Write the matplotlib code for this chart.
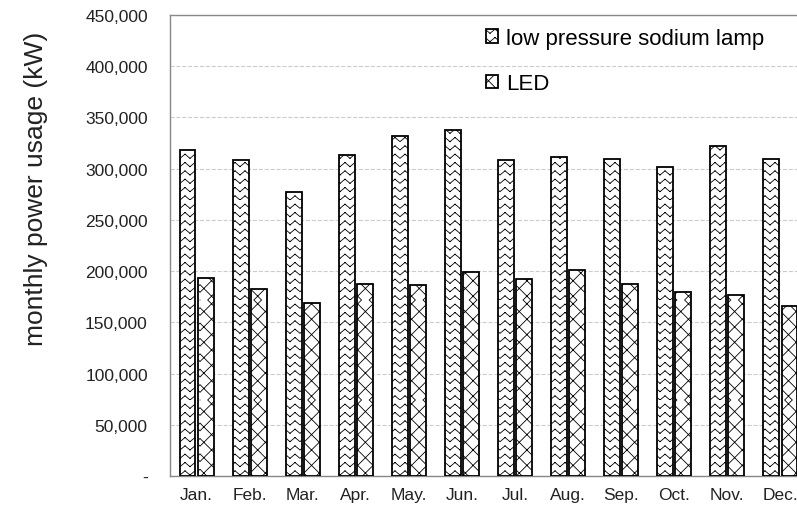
import warnings
import numpy as np
import matplotlib
matplotlib.use("Agg")
import matplotlib.pyplot as plt
import matplotlib.hatch as mhatch
from matplotlib.path import Path
from matplotlib.ticker import FuncFormatter

warnings.filterwarnings("ignore")

months = ['Jan.', 'Feb.', 'Mar.', 'Apr.', 'May.', 'Jun.',
          'Jul.', 'Aug.', 'Sep.', 'Oct.', 'Nov.', 'Dec.']
sodium = [318000, 308000, 277500, 313500, 331500, 337500,
          308000, 311000, 309000, 301500, 322500, 309000]
led = [193000, 183000, 169000, 187500, 186000, 199000,
       192000, 201000, 187500, 180000, 177000, 166000]
labels = ['low pressure sodium lamp', 'LED']


# wavy fill like excel's "wave" pattern, hatch letter 'w'
# (drawn as separate 2-point segments so agg does not fill them)
class WaveHatch(mhatch.HatchPatternBase):
    def __init__(self, hatch, density):
        n = hatch.count('w')
        self.rows = 12 * n
        self.periods = 10 * n
        self.num_lines = self.rows
        self.num_vertices = self.rows * 2 * (2 * self.periods)

    def set_vertices_and_codes(self, vertices, codes):
        if not self.num_lines:
            return
        xs = np.linspace(0, 1, 2 * self.periods + 1)
        amp = 0.5 / self.rows
        k = 0
        for i in range(self.rows):
            ys = i / self.rows + amp * (np.arange(len(xs)) % 2)
            for j in range(len(xs) - 1):
                vertices[k] = (xs[j], ys[j])
                vertices[k + 1] = (xs[j + 1], ys[j + 1])
                codes[k] = Path.MOVETO
                codes[k + 1] = Path.LINETO
                k += 2


# diagonal cross, hatch letter 'c'
class CrossHatch(mhatch.HatchPatternBase):
    def __init__(self, hatch, density):
        self.num_lines = 13 * hatch.count('c')
        self.num_vertices = 4 * (self.num_lines + 1) if self.num_lines else 0

    def set_vertices_and_codes(self, vertices, codes):
        if not self.num_lines:
            return
        steps = np.linspace(-0.5, 0.5, self.num_lines + 1)
        k = 0
        for s in steps:
            vertices[k] = (0 + s, 0 - s)
            vertices[k + 1] = (1 + s, 1 - s)
            vertices[k + 2] = (0 + s, 1 + s)
            vertices[k + 3] = (1 + s, 0 + s)
            codes[k:k + 4] = [Path.MOVETO, Path.LINETO, Path.MOVETO, Path.LINETO]
            k += 4


mhatch._hatch_types.append(WaveHatch)
mhatch._hatch_types.append(CrossHatch)

plt.rcParams['font.family'] = ['Liberation Sans', 'DejaVu Sans']
plt.rcParams['hatch.linewidth'] = 0.6

fig = plt.figure(figsize=(7.97, 5.10), dpi=100)
ax = fig.add_axes([170 / 797, 33 / 510, 637 / 797, 461 / 510])

x = np.arange(len(months))
w = 0.3
ax.bar(x - w / 2 - 0.02, sodium, w, facecolor='white', edgecolor='black',
       linewidth=1.3, hatch='w', label=labels[0], zorder=3)
ax.bar(x + w / 2 + 0.02, led, w, facecolor='white', edgecolor='black',
       linewidth=1.3, hatch='c', label=labels[1], zorder=3)

ax.set_xlim(-0.5, 11.5)
ax.set_ylim(0, 450000)
ax.set_yticks(np.arange(0, 450001, 50000))
ax.yaxis.set_major_formatter(FuncFormatter(lambda v, p: '-' if v == 0 else f'{int(v):,}'))
ax.set_xticks(x)
ax.set_xticklabels(months)
ax.tick_params(length=0, labelsize=12.5, colors='#222222')
ax.tick_params(axis='y', pad=16)
ax.tick_params(axis='x', pad=8)
ax.grid(axis='y', color='#cccccc', linestyle='--', linewidth=0.8, zorder=0)
for s in ax.spines.values():
    s.set_color('#888888')
    s.set_linewidth(1.0)

ax.set_ylabel('monthly power usage (kW)', fontsize=19, color='#222222')
ax.yaxis.set_label_coords(-0.192, 0.625)

ax.legend(loc='upper left', bbox_to_anchor=(486 / 797, 1 - 29 / 510),
          bbox_transform=fig.transFigure, frameon=False, fontsize=16,
          handlelength=0.55, handleheight=0.55, handletextpad=0.35,
          labelspacing=1.1, borderpad=0, borderaxespad=0)

fig.savefig('out.png', dpi=100)
